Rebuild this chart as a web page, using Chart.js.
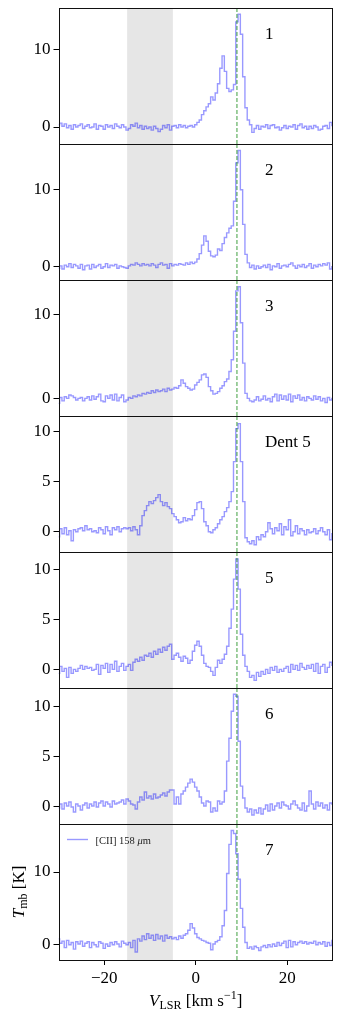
<!DOCTYPE html>
<html><head><meta charset="utf-8">
<script src="https://cdn.jsdelivr.net/npm/chart.js@4/dist/chart.umd.min.js"></script>
<style>
html,body{margin:0;padding:0;background:#fff;width:342px;height:1020px;overflow:hidden}
#wrap{position:relative;width:342px;height:1020px}
.pw{position:absolute;left:0;width:342px}
</style></head><body>
<div id="wrap"></div>
<script>
// Velocity channels (km/s), -30 .. 30 in 0.5 km/s steps
const velocity = [];
for (let k = 0; k <= 120; k++) velocity.push(-30 + k * 0.5);

// Tmb [K] for each position
const pos1 = [
 0.3,0.5,0.1,0.4,-0.1,0.2,-0.3,0.3,0.0,0.2,
 0.4,-0.2,0.1,0.3,-0.1,0.0,0.4,-0.3,0.2,0.1,
 -0.3,0.3,0.0,0.2,-0.2,0.4,0.1,-0.1,0.3,0.0,
 -0.4,-0.2,0.3,0.1,0.5,-0.1,0.2,-0.3,0.1,-0.2,
 0.0,-0.4,0.1,-0.2,-0.6,-0.3,0.2,-0.1,0.3,-0.4,
 0.1,0.2,-0.1,0.3,0.0,0.2,-0.1,0.1,0.2,0.0,
 0.3,0.6,0.9,1.6,2.1,2.6,3.0,3.9,3.5,4.4,
 5.6,7.6,9.2,7.2,5.0,4.6,4.8,5.5,13.6,14.6,
 12.0,6.5,2.5,0.9,0.3,-0.7,-0.2,0.2,-0.3,0.1,
 0.0,0.3,-0.2,0.2,0.3,-0.1,0.0,-0.4,-0.1,0.2,
 -0.2,0.1,0.0,0.3,-0.3,0.2,0.4,-0.1,0.1,-0.3,
 0.1,-0.2,0.2,0.0,-0.4,-0.3,0.1,0.2,-0.2,0.6,
 0.2];
const pos2 = [
 -0.2,0.1,-0.3,0.2,0.0,0.4,-0.1,0.3,0.1,-0.2,
 0.3,-0.4,0.1,0.2,-0.3,0.3,-0.1,0.1,0.3,-0.2,
 0.0,0.4,-0.1,0.2,0.1,0.3,-0.2,0.1,0.0,-0.1,
 -0.2,0.1,0.3,0.2,0.5,0.3,0.1,0.4,0.2,0.3,
 0.1,0.4,0.2,-0.1,0.3,0.5,0.2,0.3,-0.2,0.4,
 0.1,0.3,0.2,0.4,0.3,0.2,0.5,0.3,0.6,0.4,
 0.6,1.0,1.7,2.8,4.0,3.3,2.0,1.4,1.3,1.5,
 2.3,2.1,3.0,3.8,4.4,5.0,5.3,8.5,13.5,15.1,
 10.0,5.5,1.6,0.5,-0.1,0.2,-0.3,0.1,-0.2,0.0,
 0.2,-0.1,0.3,-0.4,0.1,0.0,0.4,-0.2,0.1,0.2,
 0.0,0.3,0.5,0.1,-0.2,0.2,0.0,0.3,-0.1,0.1,
 0.4,-0.2,0.2,0.0,0.3,0.1,0.4,0.2,0.5,-0.3,
 0.0];
const pos3 = [
 -0.6,0.1,-0.3,0.2,0.0,0.4,0.3,0.1,-0.2,0.0,
 0.1,-0.3,0.0,0.2,-0.2,0.3,-0.1,0.2,0.5,-0.3,
 -0.4,0.3,0.0,0.4,-0.2,0.5,-0.3,0.1,0.4,-0.4,
 -0.2,0.1,0.0,0.3,0.2,0.4,0.3,0.6,0.5,0.7,
 0.6,0.9,0.7,1.0,0.8,0.9,1.1,0.8,1.2,1.0,
 1.1,1.3,1.2,1.5,2.2,1.8,1.4,1.2,1.0,1.1,
 1.6,1.9,2.2,2.8,2.9,2.5,1.4,0.9,0.5,0.6,
 0.8,1.2,1.5,2.0,2.3,3.2,4.6,8.0,12.8,13.3,
 9.0,4.2,0.6,0.0,-0.3,-0.4,-0.2,0.2,-0.3,-0.1,
 0.3,-0.2,0.0,-0.4,0.2,0.5,-0.3,0.4,-0.1,0.3,
 -0.2,0.5,-0.4,0.3,0.0,0.4,-0.2,0.1,-0.3,0.2,
 0.0,-0.2,0.3,-0.1,0.2,-0.3,0.0,-0.5,0.1,-0.2,
 0.0];
const dent5 = [
 -0.5,0.3,-0.2,0.4,-0.3,0.1,-0.9,0.2,0.0,0.3,
 0.4,0.1,0.6,0.2,0.3,0.0,0.1,-0.1,0.4,0.2,
 -0.2,0.5,0.1,-0.3,0.4,0.2,0.5,0.0,0.3,0.4,
 0.3,0.4,0.1,0.5,0.2,-0.3,0.6,1.6,2.1,2.6,
 3.0,2.8,3.1,3.4,3.7,3.0,2.6,2.9,2.5,2.3,
 1.8,1.5,1.2,0.9,1.0,1.4,1.1,1.3,1.2,1.6,
 2.2,2.9,3.0,2.3,1.0,0.6,0.0,-0.1,0.2,0.4,
 0.8,1.2,1.5,2.0,2.4,3.0,4.0,7.0,10.3,10.8,
 7.0,3.0,-0.6,-1.0,-1.2,-0.9,-1.3,-0.5,-0.8,-0.3,
 -0.5,0.0,0.9,0.3,-0.2,0.4,0.1,0.8,-0.3,0.5,
 0.2,1.2,-0.4,0.0,0.6,-0.2,0.3,0.1,-0.3,0.2,
 -0.1,0.0,0.3,-0.2,0.1,0.4,0.0,-0.3,0.2,-0.8,
 -0.2];
const pos5 = [
 -0.4,0.3,-0.2,0.1,-0.8,0.2,-0.4,0.0,-0.2,0.1,
 0.4,0.0,0.3,0.1,0.2,-0.1,0.0,0.5,-0.5,0.4,
 0.1,0.6,-0.3,0.5,0.0,0.8,-0.2,0.3,0.6,-0.1,
 0.3,0.5,-0.1,0.7,1.0,0.8,1.2,0.9,1.4,1.3,
 1.6,1.2,1.8,1.5,2.0,1.7,2.2,1.9,2.3,2.5,
 1.0,1.4,1.6,1.2,0.8,1.3,1.1,0.6,0.9,1.8,
 2.4,2.8,2.3,1.4,0.6,0.3,0.2,-0.2,-0.6,0.2,
 0.9,0.6,1.0,1.5,2.3,4.1,6.0,9.0,11.0,8.0,
 3.5,1.4,0.3,-0.2,-0.8,-0.6,-1.1,-0.3,-0.7,-0.2,
 -0.5,0.0,-0.4,0.2,-0.1,0.3,-0.3,0.0,-0.2,0.1,
 0.3,-0.3,0.5,0.0,0.4,-0.1,0.6,0.2,0.0,0.4,
 0.1,0.5,-0.2,0.6,-0.4,0.3,0.5,-0.3,0.2,0.7,
 0.4];
const pos6 = [
 -0.2,0.2,-0.3,0.3,0.0,0.4,-0.1,-0.6,0.2,0.0,
 -0.4,0.1,0.3,-0.2,0.2,0.0,0.4,-0.1,0.3,0.5,
 0.0,0.4,0.2,-0.1,0.5,0.2,0.3,0.4,0.6,0.2,
 0.7,0.5,0.2,0.1,-0.3,0.4,0.9,0.6,1.4,0.8,
 1.0,0.7,1.2,0.8,0.9,1.1,1.3,1.0,1.4,1.6,
 1.6,0.2,0.9,0.2,1.2,1.5,1.9,2.3,2.7,2.4,
 1.9,1.5,0.9,0.3,0.0,0.5,0.4,-0.6,-0.2,-0.5,
 0.5,0.2,0.4,1.5,4.5,6.8,9.5,11.2,11.0,6.5,
 2.0,0.8,-0.2,-0.6,-0.3,-0.9,-0.4,-0.7,-0.2,-0.8,
 -0.3,0.1,-0.5,0.2,-0.4,0.0,0.3,-0.2,0.4,0.1,
 0.0,-0.3,0.2,0.5,0.1,-0.2,-0.4,0.3,-0.5,0.0,
 1.5,0.2,-0.3,0.4,0.0,0.3,-0.2,0.1,-0.4,0.3,
 0.2];
const pos7 = [
 0.8,0.2,0.5,-0.4,0.6,0.0,0.3,-0.6,0.4,0.1,
 0.5,-0.2,0.2,0.4,-0.4,0.3,0.0,-0.3,0.4,0.2,
 -0.5,0.1,-0.2,0.3,0.0,0.4,0.1,-0.3,0.5,0.2,
 0.0,0.3,-0.4,0.6,-1.0,0.8,0.5,1.2,0.7,1.5,
 0.9,1.3,0.6,1.4,0.8,1.2,0.5,1.3,0.9,1.1,
 0.8,1.0,0.7,1.2,0.9,1.3,1.5,2.0,2.9,2.3,
 1.5,1.0,0.8,0.6,0.5,0.3,0.2,-0.7,0.1,0.4,
 0.6,1.1,2.6,4.7,9.8,13.8,15.7,15.3,12.5,9.0,
 5.0,2.4,0.3,-0.5,-0.3,-0.6,-0.2,-0.4,-0.8,-0.3,
 -0.1,-0.4,0.0,-0.3,0.1,-0.2,0.3,-0.1,0.2,0.5,
 -0.4,0.6,-0.3,0.4,0.0,0.3,0.5,0.2,0.4,0.1,
 0.3,0.2,0.5,0.0,0.3,0.1,0.4,-0.2,0.3,-0.1,
 0.6];

const spectra = [pos1, pos2, pos3, dent5, pos5, pos6, pos7];
const panelLabels = ['1', '2', '3', 'Dent 5', '5', '6', '7'];
const yMin = [-2.2, -1.73, -2.1, -2.03, -1.86, -1.8, -2.1];
const yMax = [15.4, 15.95, 14.1, 11.56, 11.7, 11.83, 16.6];
const yTickValues = [[0,10],[0,10],[0,10],[0,5,10],[0,5,10],[0,5,10],[0,10]];
const xTickValues = [-20, 0, 20];
const maskedRange = [-15, -5];
const systemicVelocity = 9.0;
const legendLabel = '[CII] 158 ';

const panelTops = [8, 144, 280, 416, 552, 688, 824];
const panelHeight = 136;
const FONT = 'Liberation Serif';
const LINE = 'rgba(0,0,255,0.4)';

function fmt(v) { return v < 0 ? '\u2212' + Math.abs(v) : String(v); }

function drawRich(ctx, parts, cx, y) {
  let total = 0;
  parts.forEach(p => { ctx.font = p.font; p.w = ctx.measureText(p.t).width; total += p.w; });
  let x = cx - total / 2;
  ctx.textAlign = 'left';
  ctx.textBaseline = 'alphabetic';
  parts.forEach(p => { ctx.font = p.font; ctx.fillText(p.t, x, y + (p.dy || 0)); x += p.w; });
}

const wrap = document.getElementById('wrap');

spectra.forEach((vals, i) => {
  const last = i === spectra.length - 1;
  const top = panelTops[i] - 4;
  const h = last ? 1020 - top : panelHeight + 8;
  const holder = document.createElement('div');
  holder.className = 'pw';
  holder.style.top = top + 'px';
  holder.style.height = h + 'px';
  const c = document.createElement('canvas');
  c.width = 342; c.height = h;
  c.style.width = '342px'; c.style.height = h + 'px';
  holder.appendChild(c);
  wrap.appendChild(holder);

  const deco = {
    id: 'deco' + i,
    beforeDatasetsDraw(chart) {
      const { ctx, chartArea: a, scales: { x } } = chart;
      const x0 = x.getPixelForValue(maskedRange[0]);
      const x1 = x.getPixelForValue(maskedRange[1]);
      ctx.save();
      ctx.fillStyle = 'rgba(128,128,128,0.2)';
      ctx.fillRect(x0, a.top, x1 - x0, a.bottom - a.top);
      ctx.restore();
    },
    afterDatasetsDraw(chart) {
      const { ctx, chartArea: a, scales: { x } } = chart;
      ctx.save();
      const xv = x.getPixelForValue(systemicVelocity);
      ctx.strokeStyle = 'rgba(0,128,0,0.5)';
      ctx.lineWidth = 1.5;
      ctx.setLineDash([4, 2]);
      ctx.beginPath(); ctx.moveTo(xv, a.top); ctx.lineTo(xv, a.bottom); ctx.stroke();
      ctx.setLineDash([]);
      // frame
      ctx.strokeStyle = '#111';
      ctx.lineWidth = 1;
      const L = Math.round(a.left) + 0.5, R = Math.round(a.right) - 0.5;
      const T = Math.round(a.top) + 0.5, B = Math.round(a.bottom) + 0.5;
      ctx.strokeRect(L, T, R - L, B - T);
      // panel label
      ctx.fillStyle = '#000';
      ctx.font = '17px "' + FONT + '"';
      ctx.textAlign = 'left';
      ctx.textBaseline = 'alphabetic';
      ctx.fillText(panelLabels[i], 265, a.top + 31);
      if (last) {
        // legend
        ctx.strokeStyle = LINE; ctx.lineWidth = 1.4;
        ctx.beginPath(); ctx.moveTo(67, a.top + 15.5); ctx.lineTo(88, a.top + 15.5); ctx.stroke();
        ctx.fillStyle = '#222';
        ctx.font = '10.5px "' + FONT + '"';
        let lx = 95.5;
        ctx.fillText(legendLabel, lx, a.top + 19.5); lx += ctx.measureText(legendLabel).width;
        ctx.font = 'italic 10.5px "' + FONT + '"';
        ctx.fillText('\u03bc', lx, a.top + 19.5); lx += ctx.measureText('\u03bc').width;
        ctx.font = '10.5px "' + FONT + '"';
        ctx.fillText('m', lx, a.top + 19.5);
        // axis titles
        ctx.fillStyle = '#000';
        const big = '17px "' + FONT + '"', bigI = 'italic 17px "' + FONT + '"', small = '12px "' + FONT + '"';
        drawRich(ctx, [
          { t: 'V', font: bigI }, { t: 'LSR', font: small, dy: 3 },
          { t: ' [km s', font: big }, { t: '\u22121', font: small, dy: -7 }, { t: ']', font: big }
        ], (a.left + a.right) / 2, 186);
        ctx.save();
        ctx.translate(24, (a.top + a.bottom) / 2);
        ctx.rotate(-Math.PI / 2);
        drawRich(ctx, [
          { t: 'T', font: bigI }, { t: 'mb', font: small, dy: 3 }, { t: ' [K]', font: big }
        ], 0, 0);
        ctx.restore();
      }
      ctx.restore();
    }
  };

  new Chart(c, {
    type: 'line',
    data: {
      datasets: [{
        label: '[CII] 158 \u03bcm',
        data: velocity.map((v, k) => ({ x: v, y: vals[k] })),
        borderColor: LINE,
        borderWidth: 1.4,
        pointRadius: 0,
        stepped: 'middle',
        fill: false
      }]
    },
    options: {
      responsive: false,
      maintainAspectRatio: false,
      animation: false,
      devicePixelRatio: 1,
      layout: { padding: { left: 0, right: 9, top: 4, bottom: last ? 0 : 4 } },
      plugins: { legend: { display: false }, tooltip: { enabled: false } },
      scales: {
        x: {
          type: 'linear', min: -30, max: 30, display: last,
          afterBuildTicks: s => { s.ticks = xTickValues.map(v => ({ value: v })); },
          afterFit: s => {
            if (last) { s.height = 60; } else { s.height = 0; }
            s.paddingLeft = 0; s.paddingRight = 0;
          },
          ticks: { font: { family: FONT, size: 17 }, color: '#000', padding: 3, maxRotation: 0, autoSkip: false, callback: fmt },
          grid: { drawOnChartArea: false, drawTicks: true, tickLength: 5, tickColor: '#000', tickWidth: 1 },
          border: { display: false }
        },
        y: {
          type: 'linear', min: yMin[i], max: yMax[i],
          afterBuildTicks: s => { s.ticks = yTickValues[i].map(v => ({ value: v })); },
          afterFit: s => { s.width = 58.5; s.paddingTop = 0; s.paddingBottom = 0; },
          ticks: { font: { family: FONT, size: 17 }, color: '#000', padding: 3, callback: fmt },
          grid: { drawOnChartArea: false, drawTicks: true, tickLength: 5, tickColor: '#000', tickWidth: 1 },
          border: { display: false }
        }
      }
    },
    plugins: [deco]
  });
});
</script>
</body></html>
